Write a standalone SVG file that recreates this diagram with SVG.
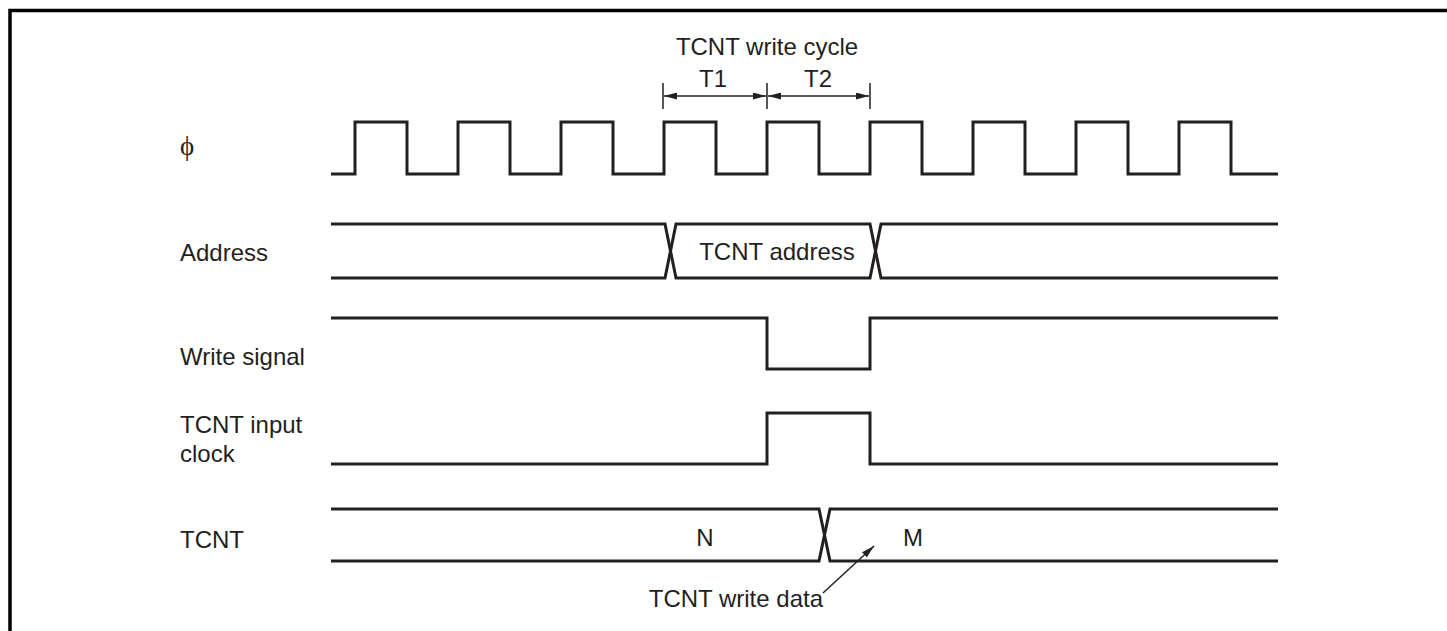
<svg xmlns="http://www.w3.org/2000/svg" width="1447" height="631" viewBox="0 0 1447 631">
<style>
.sig{fill:none;stroke:#231f20;stroke-width:3;stroke-linejoin:miter}
.thin{fill:none;stroke:#231f20;stroke-width:1.5}
.t{font-family:"Liberation Sans",Arial,sans-serif;font-size:24px;fill:#231f20}
.c{text-anchor:middle}
</style>
<defs>
<marker id="ah" viewBox="0 0 13 7" refX="13" refY="3.5" markerWidth="13" markerHeight="7" markerUnits="userSpaceOnUse" orient="auto-start-reverse">
<path d="M0,0 L13,3.5 L0,7 Z" fill="#231f20"/>
</marker>
</defs>
<rect width="1447" height="631" fill="#fff"/>
<path d="M10,631 V10.5 H1447" fill="none" stroke="#000" stroke-width="3.5"/>

<g id="labels">
<text class="t" x="180" y="155" style="font-family:'Liberation Serif','DejaVu Serif',serif;font-size:27px">ϕ</text>
<text class="t" x="180" y="261">Address</text>
<text class="t" x="180" y="365">Write signal</text>
<text class="t" x="180" y="433">TCNT input</text>
<text class="t" x="180" y="462">clock</text>
<text class="t" x="180" y="548">TCNT</text>
</g>

<g id="phi-clock">
<path class="sig" d="M331,174 H355 V122 H407 V174 H458 V122 H510 V174 H561 V122 H613 V174 H664 V122 H716 V174 H767 V122 H819 V174 H870 V122 H922 V174 H973 V122 H1025 V174 H1076 V122 H1128 V174 H1179 V122 H1231 V174 H1278"/>
</g>

<g id="address">
<path class="sig" d="M331,224 H665 L676,278 H870 L881,224 H1278"/>
<path class="sig" d="M331,278 H665 L676,224 H870 L881,278 H1278"/>
<text class="t c" x="777" y="260">TCNT address</text>
</g>

<g id="write-signal">
<path class="sig" d="M331,318 H767 V369 H870 V318 H1278"/>
</g>

<g id="tcnt-input-clock">
<path class="sig" d="M331,464 H767 V413 H870 V464 H1278"/>
</g>

<g id="tcnt">
<path class="sig" d="M331,509 H819 L830,561 H1278"/>
<path class="sig" d="M331,561 H819 L830,509 H1278"/>
<text class="t c" x="705" y="546">N</text>
<text class="t c" x="913" y="546">M</text>
</g>

<g id="write-cycle">
<text class="t c" x="767" y="55">TCNT write cycle</text>
<text class="t c" x="713" y="87">T1</text>
<text class="t c" x="818" y="87">T2</text>
</g>

<g id="connectors">
<path class="thin" d="M663,83 V109 M767,83 V109 M870,83 V109"/>
<path class="thin" d="M664,96 H766" marker-start="url(#ah)" marker-end="url(#ah)"/>
<path class="thin" d="M768,96 H869" marker-start="url(#ah)" marker-end="url(#ah)"/>
<path class="thin" d="M823,593 L874,546" marker-end="url(#ah)"/>
</g>
<text class="t" x="823" y="607" text-anchor="end">TCNT write data</text>
</svg>
